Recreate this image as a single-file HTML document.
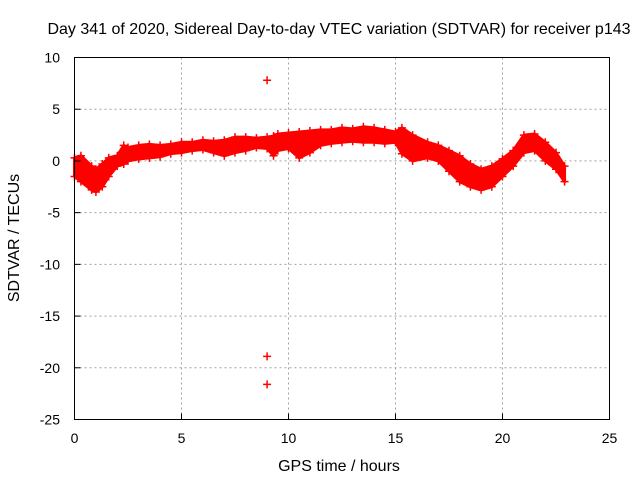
<!DOCTYPE html>
<html><head><meta charset="utf-8"><style>
body{margin:0;background:#fff}
svg text{font-family:"Liberation Sans",sans-serif;font-size:14px;fill:#000}
svg text.big{font-size:16px}
</style></head><body>
<svg id="chart" width="640" height="480" xmlns="http://www.w3.org/2000/svg">
<rect width="640" height="480" fill="#fff"/>
<g id="grid"></g>
<g id="marks"></g>
<rect x="74.5" y="57.5" width="535" height="362" fill="none" stroke="#000"/>
<g id="ticks"></g>
<text class="big" x="339" y="34" text-anchor="middle">Day 341 of 2020, Sidereal Day-to-day VTEC variation (SDTVAR) for receiver p143</text>
<text class="big" x="339" y="471" text-anchor="middle">GPS time / hours</text>
<text class="big" transform="translate(19,238) rotate(-90)" text-anchor="middle">SDTVAR / TECUs</text>
</svg>
<script>
const xTicks=[0,5,10,15,20,25];
const yTicks=[10,5,0,-5,-10,-15,-20,-25];
const hours=[0,0.3,0.8,1.0,1.3,1.6,2.0,2.3,2.5,3,3.5,4,4.5,5,5.5,6,6.5,7,7.5,8,8.5,9,9.3,9.5,10,10.5,11,11.5,12,12.5,13,13.5,14,14.5,15,15.3,15.8,16.5,17,17.5,18,18.5,19,19.5,20,20.5,21,21.5,22,22.5,22.9];
const upper=[0.3,0.5,-0.5,-0.8,-0.3,0.3,0.5,1.5,1.3,1.5,1.6,1.5,1.6,1.8,1.8,2.0,1.9,2.0,2.3,2.3,2.2,2.3,2.4,2.6,2.7,2.8,2.9,3.0,3.0,3.2,3.1,3.3,3.2,3.0,2.8,3.2,2.5,1.8,1.5,1.0,0.5,-0.3,-0.8,-0.5,0.2,1.0,2.5,2.6,1.8,0.8,-0.5];
const lower=[-1.5,-2,-2.8,-3.0,-2.5,-1.5,-0.5,-0.3,0,0.2,0.3,0.4,0.7,0.8,1.0,1.1,0.8,0.5,0.8,1.0,1.3,1.2,0.5,1.0,1.2,0.3,0.8,1.5,1.7,1.8,1.9,1.8,1.8,1.7,1.8,0.7,0,0.3,0,-1.0,-2.0,-2.5,-2.8,-2.5,-1.5,-0.5,0.8,1.0,0.0,-0.8,-2.0];
const outX=[9.0,9.0,9.0];
const outY=[7.8,-18.9,-21.6];
const X0=74.5,X1=609.5,Y0=419.5,Y1=57.5;
const sx=v=>X0+(v-0)/(25-0)*(X1-X0);
const sy=v=>Y0-(v+25)/(35)*(Y0-Y1);
const NS='http://www.w3.org/2000/svg';
const grid=document.getElementById('grid'),ticks=document.getElementById('ticks'),marks=document.getElementById('marks');
function mk(tag,at,parent){const e=document.createElementNS(NS,tag);for(const k in at)e.setAttribute(k,at[k]);parent.appendChild(e);return e;}
xTicks.forEach(t=>{const x=sx(t);
 if(t>0&&t<25){const g=mk('line',{x1:x,x2:x,y1:Y0,y2:Y1,stroke:'#a0a0a0','stroke-dasharray':'2,3'},grid);}
 const l=mk('line',{x1:x,x2:x,y1:Y0,y2:Y0-6,stroke:'#000'},ticks);
 const tx=mk('text',{x:x,y:443,'text-anchor':'middle'},ticks);tx.textContent=t;});
yTicks.forEach(t=>{const y=sy(t);
 if(t>-25&&t<10){const g=mk('line',{x1:X0,x2:X1,y1:y,y2:y,stroke:'#a0a0a0','stroke-dasharray':'2,3'},grid);}
 const l=mk('line',{x1:X0,x2:X0+6,y1:y,y2:y,stroke:'#000'},ticks);
 const tx=mk('text',{x:60,y:y+5,'text-anchor':'end'},ticks);tx.textContent=t;});
let d='';hours.forEach((h,i)=>{d+=(i?'L':'M')+sx(h)+','+sy(upper[i]);});
for(let i=hours.length-1;i>=0;i--)d+='L'+sx(hours[i])+','+sy(lower[i]);
const band=mk('path',{d:d+'Z',fill:'#f00',stroke:'#f00','stroke-width':3,'stroke-linejoin':'round'},marks);


function plus(x,y){const p=mk('path',{d:`M${x-4},${y}h8M${x},${y-4}v8`,stroke:'#f00','stroke-width':1.5},marks);
 
 }
hours.forEach((h,i)=>{plus(sx(h),sy(upper[i]));plus(sx(h),sy(lower[i]));});
outX.forEach((h,i)=>plus(sx(h),sy(outY[i])));
</script>
</body></html>
